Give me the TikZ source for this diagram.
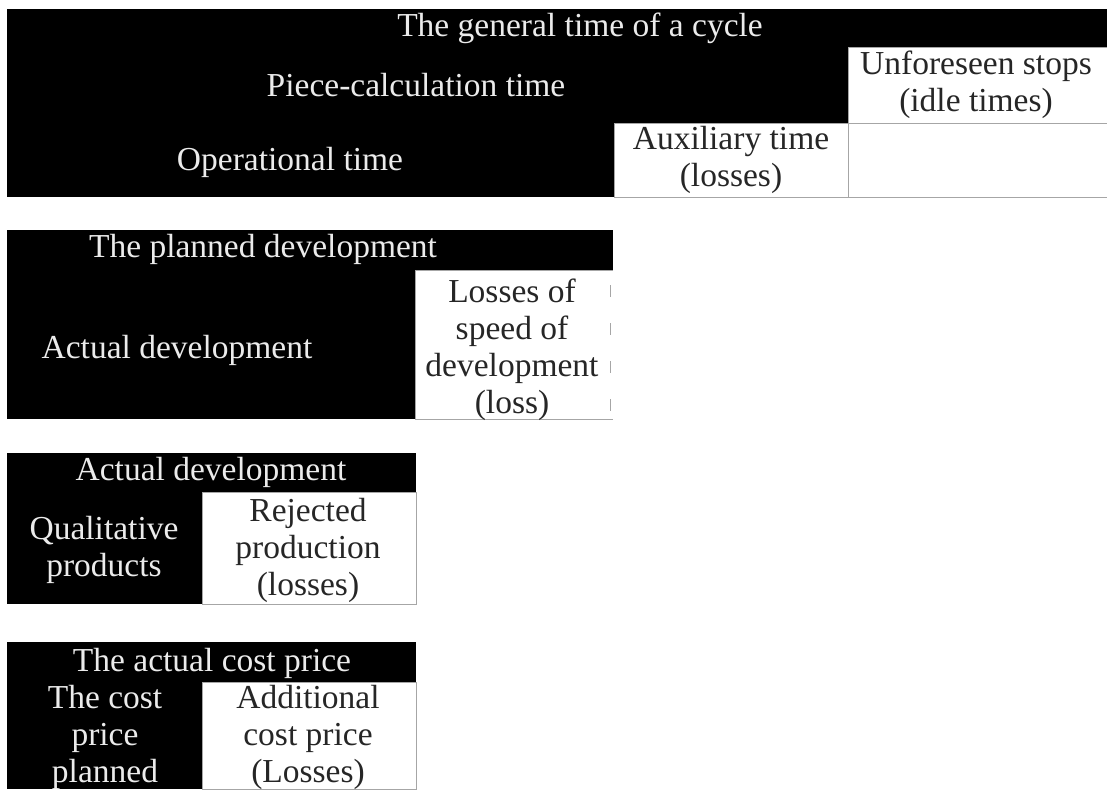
\documentclass[tikz,border=0pt]{standalone}
\usepackage{fontspec}
\setmainfont{Liberation Serif}
\usepackage{tikz}
\tikzset{
  lossbox/.style = {fill = white, draw = gray!70, line width = 0.8pt},
  losstext/.style = {align = center, text = black!85},
  darktext/.style = {align = center, text = white!92!black}
}

\begin{document}
\begin{tikzpicture}[x = 1pt, y = -1pt, font = \fontsize{33.5}{37}\selectfont]
	\useasboundingbox (0,0) rectangle (1107,789);
	\begin{scope}
		\fill (7,9) rectangle (1107,197);
		\fill (7,230) rectangle (613,419);
		\fill (7,453) rectangle (416,604);
		\fill (7,642) rectangle (416,789);
	\end{scope}
	\begin{scope}[lossbox]
		\filldraw (848,47) rectangle (1107,123);
		\filldraw (848,123) rectangle (1107,197);
		\filldraw (614,123) rectangle (848,197);
		\filldraw (613,270) -- (415,270) -- (415,419) -- (613,419);
		\filldraw (202,492) rectangle (416,604);
		\filldraw (202,682) rectangle (416,789);
	\end{scope}
	\draw [gray!70, dash pattern = on 12pt off 26pt] (610,285) -- (610,419);

	\begin{scope}[darktext]
		\node (cycle) at (580,28) {The general time of a cycle};
		\node (piece) at (416,85) {Piece-calculation time};
		\node (oper) at (290,162) {Operational time};
		\node (planned) at (263,249) {The planned development};
		\node (actual) at (177,350) {Actual development};
		\node (actualdev) at (211,472) {Actual development};
		\node (quality) at (104,550) {Qualitative\\products};
		\node (costprice) at (212,663) {The actual cost price};
		\node (planprice) at (105,737) {The cost\\price\\planned};
	\end{scope}
	\begin{scope}[losstext]
		\node (idle) at (976,85) {Unforeseen stops\\(idle times)};
		\node (aux) at (731,160) {Auxiliary time\\(losses)};
		\node (speed) at (512,350) {Losses of\\speed of\\development\\(loss)};
		\node (reject) at (308,550) {Rejected\\production\\(losses)};
		\node (addprice) at (308,737) {Additional\\cost price\\(Losses)};
	\end{scope}
\end{tikzpicture}
\end{document}
